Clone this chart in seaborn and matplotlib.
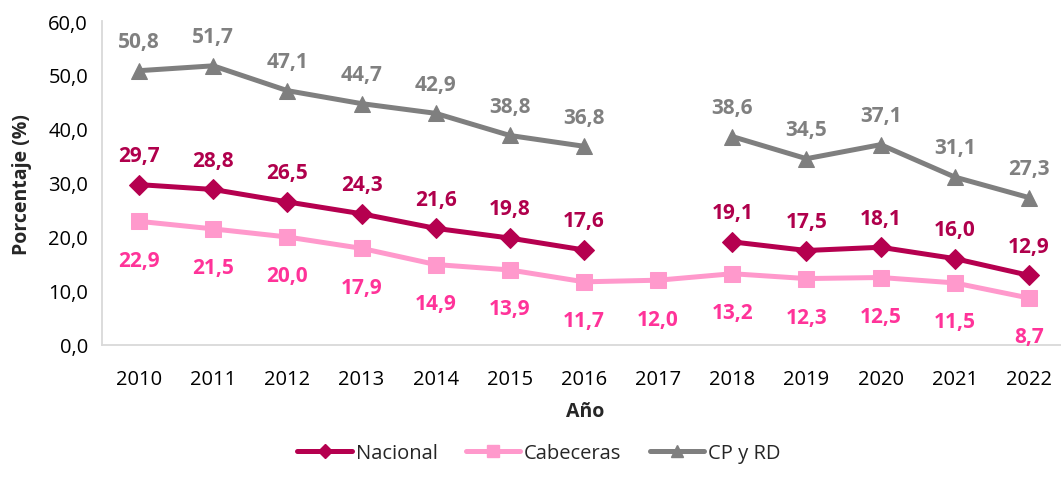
import numpy as np
import pandas as pd
import matplotlib
matplotlib.use("Agg")
import matplotlib.pyplot as plt
from matplotlib.lines import Line2D
import seaborn as sns

years = ["2010", "2011", "2012", "2013", "2014", "2015", "2016",
         "2017", "2018", "2019", "2020", "2021", "2022"]
nacional = [29.7, 28.8, 26.5, 24.3, 21.6, 19.8, 17.6, np.nan, 19.1, 17.5, 18.1, 16.0, 12.9]
cabeceras = [22.9, 21.5, 20.0, 17.9, 14.9, 13.9, 11.7, 12.0, 13.2, 12.3, 12.5, 11.5, 8.7]
cp_rd = [50.8, 51.7, 47.1, 44.7, 42.9, 38.8, 36.8, np.nan, 38.6, 34.5, 37.1, 31.1, 27.3]

series = [
    # name, values, line colour, label colour, marker, marker size, label offset
    ("Nacional", nacional, "#B5004F", "#B0004C", "D", 10, 21),
    ("Cabeceras", cabeceras, "#FF99CC", "#FF3399", "s", 11, -28),
    ("CP y RD", cp_rd, "#7F7F7F", "#808080", "^", 11, 21),
]

sns.set_style("white")
plt.rcParams['font.family'] = ['Open Sans', 'DejaVu Sans']

fig = plt.figure(figsize=(10.61, 4.89), dpi=100)
ax = fig.add_axes([102 / 1061, 1 - 346 / 489, 964 / 1061, 324 / 489])

handles = []
for name, vals, col, lcol, mk, ms, off in series:
    df = pd.DataFrame({"x": np.arange(len(years)), "y": vals})
    # split into contiguous segments so the gap in 2017 stays empty
    df["seg"] = df["y"].isna().cumsum()
    df = df.dropna()
    for _, seg in df.groupby("seg"):
        sns.lineplot(data=seg, x="x", y="y", color=col, linewidth=3.6,
                     marker=mk, markersize=ms, markeredgecolor=col,
                     ax=ax, legend=False)
    for xi, yi in zip(df["x"], df["y"]):
        ax.annotate(f"{yi:.1f}".replace(".", ","), (xi, yi),
                    xytext=(0, off), textcoords="offset points",
                    ha="center", va="center", fontsize=15,
                    fontweight="bold", color=lcol)
    handles.append(Line2D([], [], color=col, linewidth=3.6, marker=mk,
                          markersize=ms * 0.75, markeredgecolor=col, label=name))

ax.set_xlim(-0.5, 12.5)
ax.set_ylim(0, 60)
ax.set_xticks(np.arange(len(years)))
ax.set_xticklabels(years)
ax.set_xticks(np.arange(-0.5, 13, 1), minor=True)
ax.set_yticks(np.arange(0, 61, 10))
ax.set_yticklabels([f"{v:.1f}".replace(".", ",") for v in range(0, 61, 10)])

for s in ["top", "right"]:
    ax.spines[s].set_visible(False)
ax.spines["left"].set_color("#D9D9D9")
ax.spines["bottom"].set_color("#D9D9D9")
ax.spines["left"].set_linewidth(1.3)
ax.spines["bottom"].set_linewidth(1.3)

ax.tick_params(axis="x", which="major", length=0, pad=17, labelsize=14.5, colors="#000000")
ax.tick_params(axis="x", which="minor", length=6, width=1.3, color="#D9D9D9", direction="out")
ax.tick_params(axis="y", length=6, width=1.3, color="#D9D9D9", direction="out",
               labelsize=14.5, pad=4)
ax.tick_params(axis="y", which="major", labelcolor="#000000")

ax.set_xlabel("Año", fontsize=14, fontweight="bold")
ax.set_ylabel("Porcentaje (%)", fontsize=14, fontweight="bold")
ax.xaxis.set_label_coords((585 - 102) / 964, -(402 - 346) / 324)
ax.yaxis.set_label_coords(-(102 - 32) / 964, (346 - 185) / 324)

fig.legend(handles=handles, loc="center", bbox_to_anchor=(539 / 1061, 1 - 454 / 489), ncol=3,
           frameon=False, fontsize=14.5, handlelength=2.7, columnspacing=1.4,
           handletextpad=0.2)

fig.savefig("out.png", dpi=100)
